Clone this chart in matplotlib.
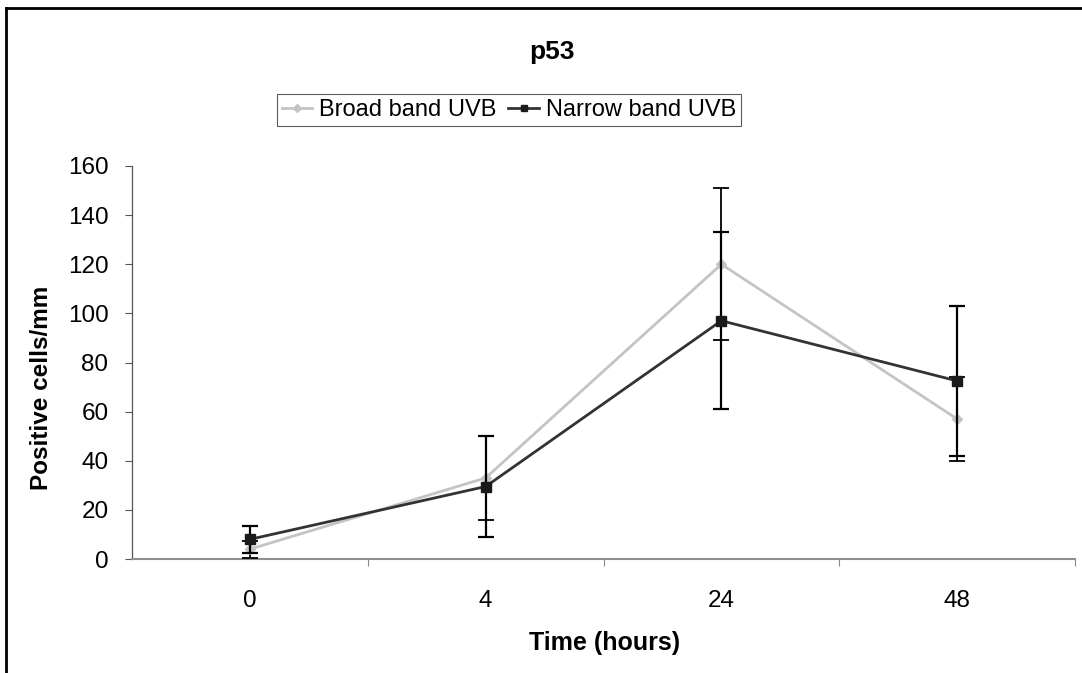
import matplotlib
matplotlib.use("Agg")
import matplotlib.pyplot as plt
from matplotlib.lines import Line2D

plt.rcParams['font.family'] = ['Liberation Sans', 'DejaVu Sans']

categories = ["0", "4", "24", "48"]
broad = [4, 33, 120, 57]
broad_err = [3.5, 17, 31, 17]
narrow = [8, 29.5, 97, 72.5]
narrow_err = [5.4, 20.5, 36, 30.5]
yticks = [0, 20, 40, 60, 80, 100, 120, 140, 160]

fig = plt.figure(figsize=(10.82, 6.73), dpi=100)
ax = fig.add_axes([132/1082, 1 - 559/673, (1075 - 132)/1082, (559 - 166)/673])

x = list(range(len(categories)))
ax.errorbar(x, broad, yerr=broad_err, color='#c4c4c4', lw=2, marker='D', ms=5,
            mfc='#c4c4c4', mec='#c4c4c4', ecolor='black', elinewidth=1.3,
            capsize=6, capthick=1.3, zorder=3, label='Broad band UVB')
ax.errorbar(x, narrow, yerr=narrow_err, color='#333333', lw=2, marker='s', ms=7,
            mfc='#1a1a1a', mec='#1a1a1a', ecolor='black', elinewidth=1.6,
            capsize=6, capthick=1.6, zorder=4, label='Narrow band UVB')

ax.set_xlim(-0.5, 3.5)
ax.set_ylim(0, 160)
ax.set_yticks(yticks)
ax.set_yticklabels([str(v) for v in yticks], fontsize=17.5)
ax.tick_params(axis='y', direction='out', length=5, width=0.8, color='#555555', pad=12)

ax.set_xticks([0.5, 1.5, 2.5, 3.5])
ax.set_xticklabels([])
ax.tick_params(axis='x', which='major', direction='out', length=5, width=0.8, color='#888888')
ax.set_xticks(x, minor=True)
ax.set_xticklabels(categories, minor=True, fontsize=17.5)
ax.tick_params(axis='x', which='minor', length=0, pad=22)

for s in ['top', 'right']:
    ax.spines[s].set_visible(False)
ax.spines['left'].set_color('#555555')
ax.spines['left'].set_linewidth(0.9)
ax.spines['bottom'].set_color('#909090')
ax.spines['bottom'].set_linewidth(1.5)

fig.text(42/1082, 1 - 388/673, 'Positive cells/mm', rotation=90, ha='center', va='center',
         fontsize=17.5, fontweight='bold')
fig.text(605/1082, 1 - 643/673, 'Time (hours)', ha='center', va='center',
         fontsize=18, fontweight='bold')

fig.text(552/1082, 1 - 52/673, 'p53', ha='center', va='center', fontsize=19, fontweight='bold')

handles = [Line2D([], [], color='#c4c4c4', lw=2, marker='D', ms=4, mfc='#c4c4c4', mec='#c4c4c4'),
           Line2D([], [], color='#333333', lw=2, marker='s', ms=5, mfc='#1a1a1a', mec='#1a1a1a')]
leg = fig.legend(handles, ['Broad band UVB', 'Narrow band UVB'], loc='center',
                 bbox_to_anchor=(509/1082, 1 - 110/673), ncol=2, fontsize=17,
                 frameon=True, fancybox=False, edgecolor='#333333', handlelength=1.3,
                 handletextpad=0.3, columnspacing=0.5, borderpad=0.2, borderaxespad=0)
leg.get_frame().set_linewidth(0.8)

# picture frame
fig.add_artist(Line2D([6/1082, 6/1082], [0, 1 - 8/673], transform=fig.transFigure, color='black', lw=2))
fig.add_artist(Line2D([6/1082, 1], [1 - 8/673, 1 - 8/673], transform=fig.transFigure, color='black', lw=2))

fig.savefig('out.png', dpi=100)
